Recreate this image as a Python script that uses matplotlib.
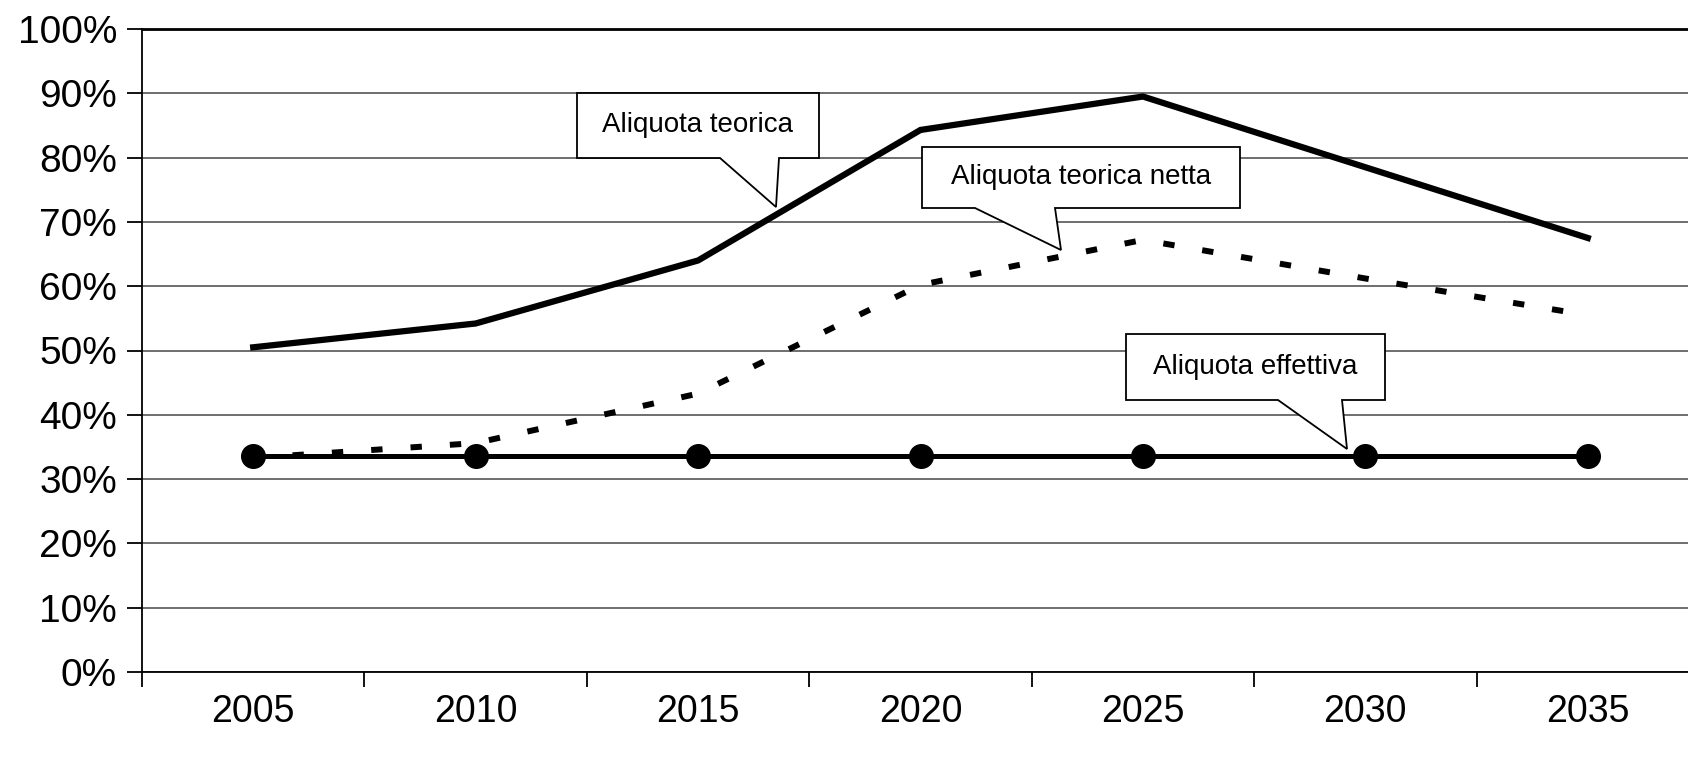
import matplotlib
matplotlib.use("Agg")
import matplotlib.pyplot as plt
from matplotlib.patches import Polygon
from matplotlib.ticker import FixedLocator, FuncFormatter

plt.rcParams['font.family'] = ['Liberation Sans', 'DejaVu Sans']

years = ['2005', '2010', '2015', '2020', '2025', '2030', '2035']
aliquota_teorica = [50.5, 54.2, 64.0, 84.3, 89.5, 78.5, 67.5]
aliquota_teorica_netta = [33.3, 35.6, 43.3, 60.2, 67.2, 61.2, 55.5]
aliquota_effettiva = [33.6, 33.6, 33.6, 33.6, 33.6, 33.6, 33.6]
callout_labels = ['Aliquota teorica', 'Aliquota teorica netta', 'Aliquota effettiva']

W, H = 1688, 764
fig = plt.figure(figsize=(W / 100, H / 100), dpi=100)
ax = fig.add_axes([142 / W, 1 - 672 / H, 1557 / W, 643 / H])

x = list(range(len(years)))
ax.set_xlim(-0.5, len(years) - 0.5)
ax.set_ylim(0, 100)

ax.plot(x, aliquota_teorica, color='black', lw=4.5, solid_joinstyle='miter', zorder=4)
ax.plot(x, aliquota_effettiva, color='black', lw=3.6, marker='o', markersize=17, zorder=3)
ax.plot(x, aliquota_teorica_netta, color='black', lw=4.3, linestyle=(0, (1.9, 4.7)),
        dash_capstyle='butt', zorder=5)

ax.set_yticks(range(0, 101, 10))
ax.yaxis.set_major_formatter(FuncFormatter(lambda v, p: f"{int(v)}%"))
ax.grid(axis='y', color='#555555', lw=1.2)
ax.set_axisbelow(True)

ax.set_xticks(x)
ax.set_xticklabels(years)
ax.xaxis.set_minor_locator(FixedLocator([i - 0.5 for i in range(len(years) + 1)]))
ax.tick_params(axis='x', which='major', length=0, pad=16, labelsize=27)
ax.tick_params(axis='x', which='minor', length=11, width=1.3, direction='out')
ax.tick_params(axis='y', length=11, width=1.3, direction='out', pad=7, labelsize=28)

ax.spines['right'].set_visible(False)
ax.spines['top'].set_linewidth(2.0)
ax.spines['left'].set_linewidth(1.3)
ax.spines['bottom'].set_linewidth(1.3)

callouts = [
    [(577, 93), (819, 93), (819, 158), (779, 158), (776, 207), (720, 158), (577, 158)],
    [(922, 147), (1240, 147), (1240, 208), (1055, 208), (1061, 250), (975, 208), (922, 208)],
    [(1126, 334), (1385, 334), (1385, 400), (1342, 400), (1347, 449), (1278, 400), (1126, 400)],
]
for label, pts in zip(callout_labels, callouts):
    poly = Polygon([(px / W, 1 - py / H) for px, py in pts], closed=True,
                   transform=fig.transFigure, facecolor='white', edgecolor='black',
                   lw=1.3, zorder=10)
    fig.patches.append(poly)
    x0, y0 = pts[0]
    x1, _ = pts[1]
    y1 = pts[2][1]
    fig.text((x0 + x1) / 2 / W, 1 - (y0 + y1) / 2 / H, label, ha='center', va='center',
             fontsize=20, zorder=11)

fig.savefig('out.png', dpi=100)
